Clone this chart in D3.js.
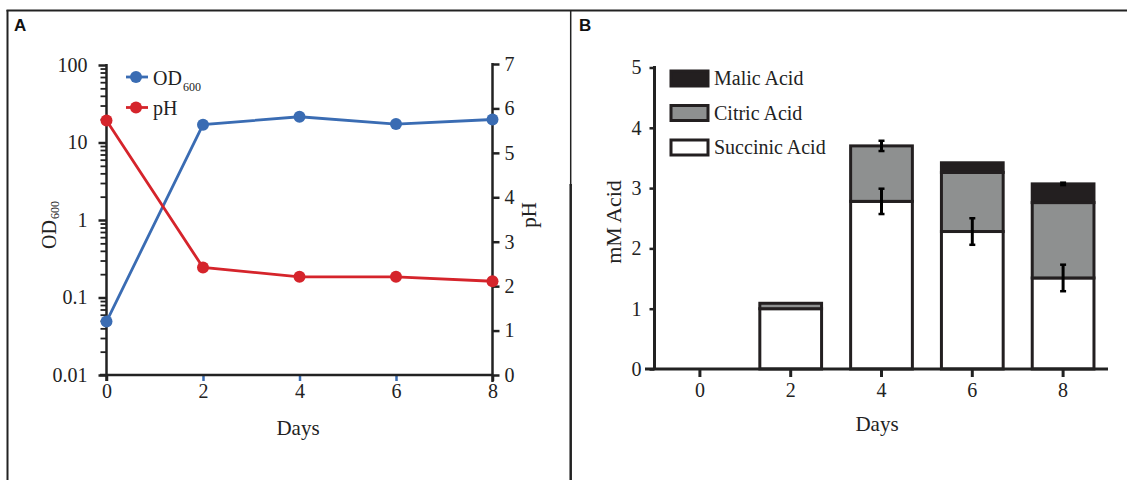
<!DOCTYPE html>
<html><head><meta charset="utf-8">
<script src="https://cdn.jsdelivr.net/npm/d3@7"></script>
<style>
body{margin:0;background:#fff}
text{font-family:"Liberation Serif","Times New Roman",serif;fill:#222}
</style></head>
<body><svg id="c" width="1127" height="480"></svg>
<script>
// ---- Panel A data ----
const days = [0, 2, 4, 6, 8];
const od600 = [0.049, 17, 21.5, 17.3, 19.8];
const pH = [5.73, 2.42, 2.21, 2.21, 2.11];
const odTicks = [0.01, 0.1, 1, 10, 100];
const odTickLabels = ["0.01", "0.1", "1", "10", "100"];
const phTicks = [0, 1, 2, 3, 4, 5, 6, 7];
const dayTicks = [0, 2, 4, 6, 8];

// ---- Panel B data ----
const acidDays = ["0", "2", "4", "6", "8"];
const succinic = [0, 1.0, 2.78, 2.28, 1.51];
const citric = [0, 0.09, 0.92, 0.98, 1.25];
const malic = [0, 0, 0, 0.16, 0.31];
const succinicErr = [0, 0, 0.21, 0.22, 0.22];
const citricErr = [0, 0, 0.085, 0, 0];
const malicErr = [0, 0, 0, 0, 0.02];
const acidTicks = [0, 1, 2, 3, 4, 5];
const acidKeys = ["Succinic Acid", "Citric Acid", "Malic Acid"];
const legendKeys = ["Malic Acid", "Citric Acid", "Succinic Acid"];

const BLUE = "#3a6cb3", RED = "#d5242b", INK = "#222";
const acidFill = {"Succinic Acid": "#ffffff", "Citric Acid": "#8e9090", "Malic Acid": "#231f20"};

const svg = d3.select("#c");

// frame
svg.append("line").attr("x1", 6.5).attr("x2", 1127).attr("y1", 10.5).attr("y2", 10.5).attr("stroke", INK).attr("stroke-width", 2);
svg.append("line").attr("x1", 7.5).attr("x2", 7.5).attr("y1", 10).attr("y2", 480).attr("stroke", INK).attr("stroke-width", 2);
svg.append("line").attr("x1", 570.7).attr("x2", 570.7).attr("y1", 10).attr("y2", 186).attr("stroke", INK).attr("stroke-width", 1.5);
svg.append("line").attr("x1", 570.7).attr("x2", 570.7).attr("y1", 184).attr("y2", 480).attr("stroke", INK).attr("stroke-width", 2.5);

svg.append("text").attr("x", 14).attr("y", 30.5).text("A")
  .style("font-family", "Liberation Sans, Arial, sans-serif").style("font-weight", "bold").style("font-size", "17px").style("fill", "#111");
svg.append("text").attr("x", 579).attr("y", 30.5).text("B")
  .style("font-family", "Liberation Sans, Arial, sans-serif").style("font-weight", "bold").style("font-size", "17px").style("fill", "#111");

// ================= Panel A =================
const xA = d3.scaleLinear().domain([0, 8]).range([106.5, 492.5]);
const yOD = d3.scaleLog().domain([0.01, 100]).range([375, 65]);
const yPH = d3.scaleLinear().domain([0, 7]).range([375, 64]);

const gA = svg.append("g");

// left log axis with minor ticks
const minor = [];
for (let e = -2; e < 2; e++) for (let m = 1; m < 10; m++) minor.push(m * Math.pow(10, e));
minor.push(100);
const isMajor = d => odTicks.some(t => Math.abs(t - d) / t < 1e-6);
const leftAx = d3.axisLeft(yOD).tickValues(minor).tickSize(6).tickPadding(13)
  .tickFormat(d => { const i = odTicks.findIndex(t => Math.abs(t - d) / t < 1e-6); return i >= 0 ? odTickLabels[i] : ""; });
const gL = gA.append("g").attr("transform", "translate(106.5,0)").call(leftAx);
gL.select(".domain").remove();
gL.selectAll(".tick line").attr("stroke", INK).attr("stroke-width", d => isMajor(d) ? 2.5 : 1.8)
  .attr("x2", d => isMajor(d) ? -8 : -6);
gL.selectAll(".tick text").style("font-size", "20px").style("font-family", "Liberation Serif, serif").attr("fill", INK);
gA.append("line").attr("x1", 106.5).attr("x2", 106.5).attr("y1", 64).attr("y2", 381).attr("stroke", INK).attr("stroke-width", 2.5);

// right pH axis
const rightAx = d3.axisRight(yPH).tickValues(phTicks).tickSize(7).tickPadding(5).tickFormat(d3.format("d"));
const gR = gA.append("g").attr("transform", "translate(492.5,0)").call(rightAx);
gR.select(".domain").remove();
gR.selectAll(".tick line").attr("stroke", INK).attr("stroke-width", 2.5);
gR.selectAll(".tick text").style("font-size", "20px").style("font-family", "Liberation Serif, serif").attr("fill", INK);
gA.append("line").attr("x1", 492.5).attr("x2", 492.5).attr("y1", 63).attr("y2", 382).attr("stroke", INK).attr("stroke-width", 2.5);

// bottom axis
const botAx = d3.axisBottom(xA).tickValues(dayTicks).tickSize(6).tickPadding(3).tickFormat(d3.format("d"));
const gB = gA.append("g").attr("transform", "translate(0,375)").call(botAx);
gB.select(".domain").remove();
gB.selectAll(".tick line").attr("stroke", d => (d === 0 || d === 8) ? INK : BLUE).attr("stroke-width", 2.5);
gB.selectAll(".tick text").style("font-size", "20px").style("font-family", "Liberation Serif, serif").attr("fill", INK);
gA.append("line").attr("x1", 100).attr("x2", 493).attr("y1", 375).attr("y2", 375).attr("stroke", INK).attr("stroke-width", 2.5);

// lines
const odPts = days.map((d, i) => [d, od600[i]]);
const phPts = days.map((d, i) => [d, pH[i]]);
gA.append("path").datum(odPts).attr("fill", "none").attr("stroke", BLUE).attr("stroke-width", 2.8)
  .attr("d", d3.line().x(d => xA(d[0])).y(d => yOD(d[1])));
gA.append("path").datum(phPts).attr("fill", "none").attr("stroke", RED).attr("stroke-width", 2.8)
  .attr("d", d3.line().x(d => xA(d[0])).y(d => yPH(d[1])));
gA.selectAll(".odpt").data(odPts).join("circle").attr("cx", d => xA(d[0])).attr("cy", d => yOD(d[1])).attr("r", 6).attr("fill", BLUE);
gA.selectAll(".phpt").data(phPts).join("circle").attr("cx", d => xA(d[0])).attr("cy", d => yPH(d[1])).attr("r", 6).attr("fill", RED);

// legend A
const legA = [{c: BLUE, y: 77, main: "OD", sub: "600"}, {c: RED, y: 107.5, main: "pH", sub: ""}];
legA.forEach(l => {
  gA.append("line").attr("x1", 126).attr("x2", 148).attr("y1", l.y).attr("y2", l.y).attr("stroke", l.c).attr("stroke-width", 2.8);
  gA.append("circle").attr("cx", 136).attr("cy", l.y).attr("r", 6).attr("fill", l.c);
  const t = gA.append("text").attr("x", 153).attr("y", l.y + 7.5).style("font-size", "20px");
  t.append("tspan").text(l.main);
  if (l.sub) t.append("tspan").attr("dy", 6).attr("dx", 1).style("font-size", "12px").text(l.sub);
});

// axis titles A
const odTitle = gA.append("text").attr("transform", "translate(56,225) rotate(-90)").attr("text-anchor", "middle").style("font-size", "20px");
odTitle.append("tspan").text("OD");
odTitle.append("tspan").attr("dy", 3).attr("dx", 1).style("font-size", "12px").text("600");
gA.append("text").attr("transform", "translate(536,215) rotate(-90)").attr("text-anchor", "middle").style("font-size", "21px").text("pH");
gA.append("text").attr("x", 298).attr("y", 435).attr("text-anchor", "middle").style("font-size", "21px").text("Days");

// ================= Panel B =================
const xB = d3.scaleBand().domain(acidDays).range([654.5, 1108.5]).paddingInner(0.32).paddingOuter(0.16);
const yB = d3.scaleLinear().domain([0, 5]).range([369, 67.5]);
const gP = svg.append("g");

const table = acidDays.map((d, i) => ({day: d, "Succinic Acid": succinic[i], "Citric Acid": citric[i], "Malic Acid": malic[i]}));
const errs = {"Succinic Acid": succinicErr, "Citric Acid": citricErr, "Malic Acid": malicErr};
const stacked = d3.stack().keys(acidKeys)(table);

stacked.forEach(layer => {
  gP.append("g").selectAll("rect").data(layer.filter(s => s[1] - s[0] > 0)).join("rect")
    .attr("x", s => xB(s.data.day)).attr("width", xB.bandwidth())
    .attr("y", s => yB(s[1])).attr("height", s => yB(s[0]) - yB(s[1]))
    .attr("fill", acidFill[layer.key]).attr("stroke", "#231f20").attr("stroke-width", 3);
});

// error bars
stacked.forEach(layer => {
  const e = errs[layer.key];
  layer.forEach((s, i) => {
    if (!e[i]) return;
    const cx = xB(s.data.day) + xB.bandwidth() / 2;
    const top = yB(s[1] + e[i]), bot = yB(s[1] - e[i]);
    gP.append("line").attr("x1", cx).attr("x2", cx).attr("y1", top).attr("y2", bot).attr("stroke", "#000").attr("stroke-width", 3);
    [top, bot].forEach(yy => gP.append("line").attr("x1", cx - 3).attr("x2", cx + 3).attr("y1", yy).attr("y2", yy).attr("stroke", "#000").attr("stroke-width", 2.5));
  });
});

// axes B
const yAxB = d3.axisLeft(yB).tickValues(acidTicks).tickSize(5).tickPadding(8).tickFormat(d3.format("d"));
const gY = gP.append("g").attr("transform", "translate(654.5,0)").call(yAxB);
gY.select(".domain").remove();
gY.selectAll(".tick line").attr("stroke", INK).attr("stroke-width", 2.5);
gY.selectAll(".tick text").style("font-size", "20px").style("font-family", "Liberation Serif, serif").attr("fill", INK);
gP.append("line").attr("x1", 654.5).attr("x2", 654.5).attr("y1", 66).attr("y2", 370).attr("stroke", INK).attr("stroke-width", 3);

const xAxB = d3.axisBottom(xB).tickSize(8).tickPadding(6);
const gX = gP.append("g").attr("transform", "translate(0,369)").call(xAxB);
gX.select(".domain").remove();
gX.selectAll(".tick line").attr("stroke", INK).attr("stroke-width", 3);
gX.selectAll(".tick text").style("font-size", "20px").style("font-family", "Liberation Serif, serif").attr("fill", INK);
gP.append("line").attr("x1", 645).attr("x2", 1108).attr("y1", 369).attr("y2", 369).attr("stroke", INK).attr("stroke-width", 3);

// legend B
legendKeys.forEach((k, i) => {
  const y0 = 71 + i * 34.5;
  gP.append("rect").attr("x", 671).attr("y", y0).attr("width", 37).attr("height", 15)
    .attr("fill", acidFill[k]).attr("stroke", "#231f20").attr("stroke-width", 3);
  gP.append("text").attr("x", 714).attr("y", y0 + 14).style("font-size", "20px").text(k);
});

gP.append("text").attr("transform", "translate(621,222) rotate(-90)").attr("text-anchor", "middle").style("font-size", "22px").text("mM Acid");
gP.append("text").attr("x", 877).attr("y", 431).attr("text-anchor", "middle").style("font-size", "21px").text("Days");
</script></body></html>
